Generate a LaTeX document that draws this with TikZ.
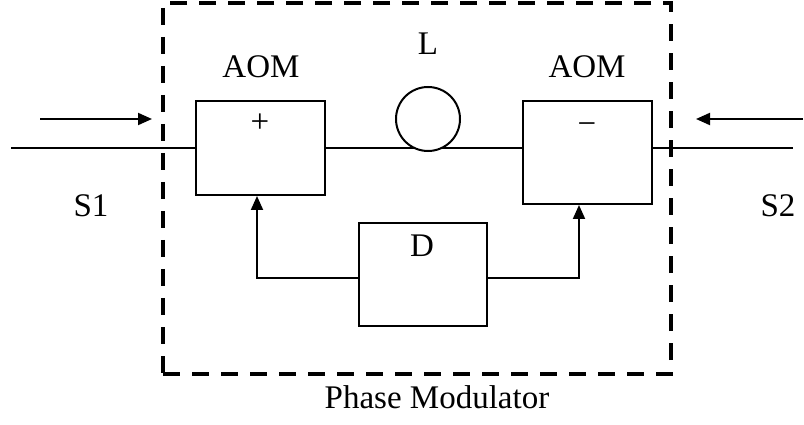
\documentclass[tikz,border=0pt]{standalone}
\usepackage{fontspec}
\setmainfont{Liberation Serif}
\usetikzlibrary{arrows.meta}
\begin{document}
\begin{tikzpicture}[x=1pt,y=-1pt,
  blk/.style={draw,line width=2pt,rectangle,inner sep=0pt},
  wire/.style={line width=2pt},
  sig/.style={line width=2pt,-{Triangle[length=14pt,width=12pt]}},
  lbl/.style={font=\fontsize{33}{40}\selectfont,inner sep=0pt,anchor=base},
  sym/.style={font=\fontsize{33}{40}\selectfont,inner sep=0pt},
  frame/.style={draw,line width=4.5pt,dash pattern=on 17pt off 12pt,rectangle,inner sep=0pt}]
\useasboundingbox (0,0) rectangle (804,425);
% outer dashed frame
\node[frame,minimum width=508pt,minimum height=371pt] (pm) at (417,188.5) {};
% blocks
\node[blk,minimum width=129pt,minimum height=94pt] (aomL) at (260.5,148) {};
\node[blk,minimum width=129pt,minimum height=103pt] (aomR) at (587.5,152.5) {};
\node[blk,minimum width=128pt,minimum height=103pt] (del) at (423,274.5) {};
% fibre line between AOMs and loop
\draw[wire] (aomL.east) -- (aomL.east -| aomR.west);
\node[draw,circle,line width=2pt,fill=white,minimum size=64pt,inner sep=0pt] (loop) at (428,119) {};
% input / output lines
\coordinate (inL) at (11,148);
\coordinate (inR) at (793,148);
\draw[wire] (inL) -- (aomL.west);
\draw[wire] (aomR.east |- inR) -- (inR);
% signal arrows
\coordinate (a1s) at (40,119);
\coordinate (a1e) at (152,119);
\coordinate (a2s) at (803,119);
\coordinate (a2e) at (696,119);
\draw[sig] (a1s) -- (a1e);
\draw[sig] (a2s) -- (a2e);
% feedback
\draw[sig] ([yshift=-3.5pt]del.west) -| ([xshift=-3.5pt]aomL.south);
\draw[sig] ([yshift=-3.5pt]del.east) -| ([xshift=-8.5pt]aomR.south);
% labels
\node[lbl] (t1) at (261,78) {AOM};
\node[lbl] (t2) at (587,78) {AOM};
\node[lbl] (tL) at (428,55) {L};
\node[lbl] (tD) at (422,256) {D};
\node[lbl] (tS1) at (91,217) {S1};
\node[lbl] (tS2) at (778,217) {S2};
\node[lbl] (tPM) at (437,408) {Phase Modulator};
\node[sym] (plus) at (260,123) {+};
\node[sym] (minus) at (587,129) {−};
\end{tikzpicture}
\end{document}
